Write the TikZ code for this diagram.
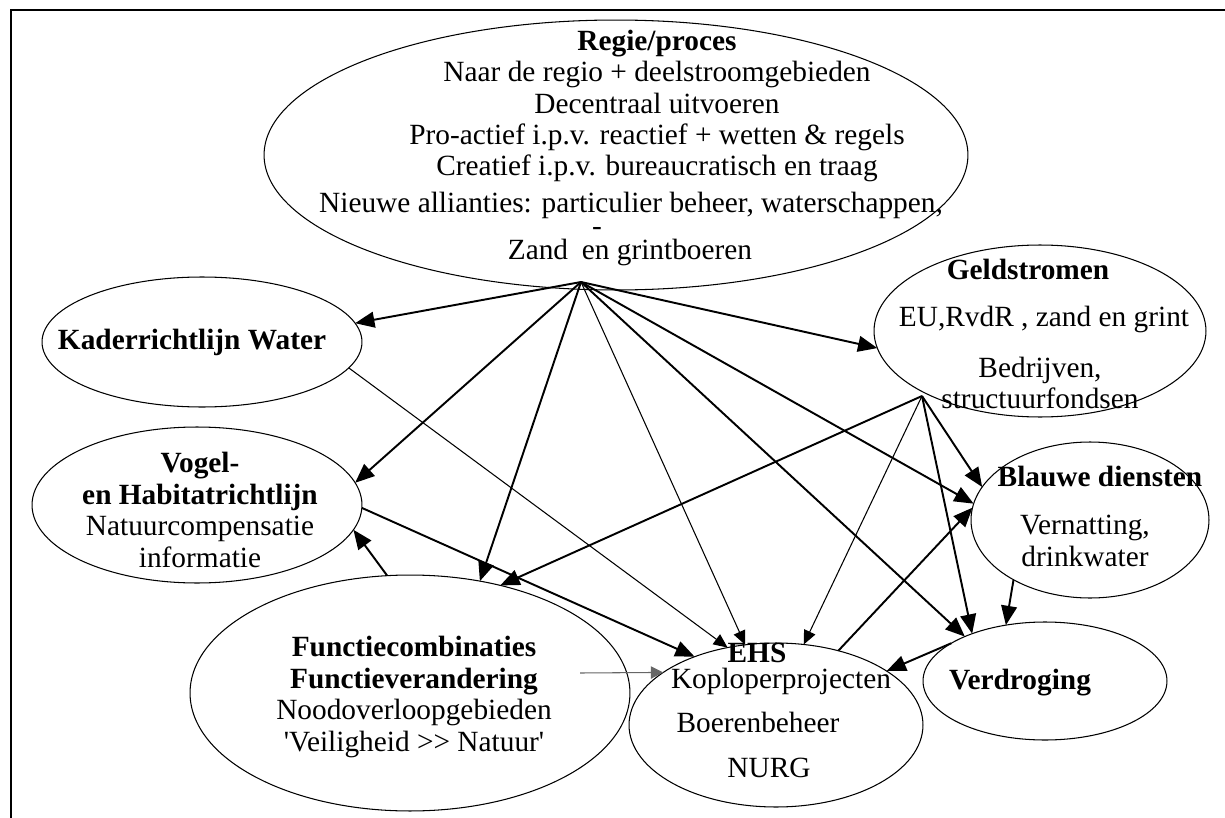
\documentclass[tikz,border=0pt]{standalone}
\usepackage{fontspec}
\setmainfont{Liberation Serif}
\usetikzlibrary{arrows.meta, shapes.geometric}

\tikzset{
  bubble/.style={ellipse, draw, line width=0.6pt, inner sep=0pt, outer sep=0pt},
  lbl/.style={font=\fontsize{16.7}{17.9}\selectfont, inner sep=0pt, align=center},
  oneline/.style={lbl, text height=0.69em, text depth=0.22em},
  arr/.style={line width=1.1pt, -{Triangle[length=11pt, width=9pt]}},
  thinarr/.style={line width=0.6pt, -{Triangle[length=8pt, width=7pt]}},
}

\begin{document}
\begin{tikzpicture}[x=0.02cm, y=-0.02cm]
      \useasboundingbox (0, 0) rectangle (1225, 818);
      \draw[line width=1.3pt] (11, 818) -- (11, 10) -- (1225, 10);

      \node[bubble, minimum width=14.08cm, minimum height=5.4cm] (regie) at (616, 155) {};
      \node[bubble, minimum width=6.4cm, minimum height=2.6cm] (kader) at (202, 342) {};
      \node[bubble, minimum width=6.6cm, minimum height=3.12cm] (vogel) at (197, 505) {};
      \node[bubble, minimum width=8.8cm, minimum height=4.72cm] (functie) at (410, 693) {};
      \node[bubble, minimum width=5.88cm, minimum height=3.28cm] (ehs) at (776, 725) {};
      \node[bubble, minimum width=6.64cm, minimum height=3.44cm] (geld) at (1040, 331) {};
      \node[bubble, minimum width=4.76cm, minimum height=3.12cm] (blauw) at (1090, 520) {};
      \node[bubble, minimum width=4.88cm, minimum height=2.36cm] (verdr) at (1045, 681) {};

      \node[lbl] (regietxt) at (657, 106) {\textbf{Regie/proces}\\Naar de regio + deelstroomgebieden\\Decentraal uitvoeren\\Pro-actief i.p.v. reactief + wetten \& regels\\Creatief i.p.v. bureaucratisch en traag};
      \node[oneline] (nieuwetxt) at (631, 208) {Nieuwe allianties: particulier beheer, waterschappen,};
      \node[lbl] (streep) at (597, 231) {-};
      \node[oneline] (zandtxt) at (538, 255) {Zand};
      \node[oneline] (grinttxt) at (667, 255) {en grintboeren};
      \node[oneline] (kadertxt) at (192, 345) {\textbf{Kaderrichtlijn Water}};
      \node[lbl] (vogeltxt) at (200, 510) {\textbf{Vogel-}\\\textbf{en Habitatrichtlijn}\\Natuurcompensatie\\informatie};
      \node[lbl] (functietxt) at (414, 697) {\textbf{Functiecombinaties}\\\textbf{Functieverandering}\\Noodoverloopgebieden\\\textquotesingle Veiligheid >{}> Natuur\textquotesingle};
      \node[oneline] (ehstitel) at (757, 658) {\textbf{EHS}};
      \node[oneline] (ehsa) at (781, 684) {Koploperprojecten};
      \node[oneline] (ehsb) at (758, 728) {Boerenbeheer};
      \node[oneline] (ehsc) at (769, 773) {NURG};
      \node[oneline] (geldtitel) at (1028, 275) {\textbf{Geldstromen}};
      \node[oneline] (gelda) at (1044, 322) {EU,RvdR , zand en grint};
      \node[lbl] (geldb) at (1040, 383) {Bedrijven,\\structuurfondsen};
      \node[oneline] (blauwtitel) at (1100, 482) {\textbf{Blauwe diensten}};
      \node[lbl] (blauwtxt) at (1085, 541) {Vernatting,\\drinkwater};
      \node[oneline] (verdrtxt) at (1020, 685) {\textbf{Verdroging}};

      \coordinate (rhub) at (581, 282);
      \coordinate (ghub) at (922, 396);
      \coordinate (fstart) at (580, 673);

      \draw[arr] (rhub) -- (kader.7);
      \draw[arr] (rhub) -- (vogel.8);
      \draw[arr] (rhub) -- (functie.58);
      \draw[thinarr] (rhub) -- (ehs.111);
      \draw[arr] (rhub) -- (verdr.151);
      \draw[arr] (rhub) -- (blauw.172);
      \draw[arr] (rhub) -- (geld.186);
      \draw[arr] (ghub) -- (functie.50);
      \draw[thinarr] (ghub) -- (ehs.71);
      \draw[arr] (ghub) -- (verdr.147);
      \draw[arr] (ghub) -- (blauw.163);
      \draw[thinarr] (kader.350) -- (ehs.122);
      \draw[arr] (vogel.359) -- (ehs.140);
      \draw[thinarr, gray!80!black, -{Triangle[length=7pt, width=7pt]}] (fstart) -- (ehs.155);
      \draw[arr] (functie.101) -- (vogel.351);
      \draw[arr] (ehs.50) -- (blauw.174);
      \draw[arr] (blauw.218) -- (verdr.125);
      \draw[arr] (verdr.158) -- (ehs.26);
\end{tikzpicture}
\end{document}
